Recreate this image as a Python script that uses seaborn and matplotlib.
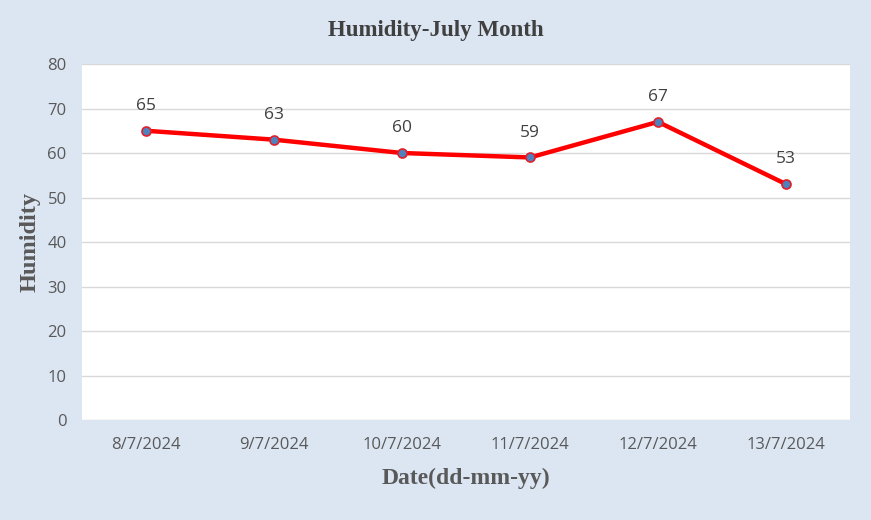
import matplotlib
matplotlib.use('Agg')
import matplotlib.pyplot as plt
import seaborn as sns
import pandas as pd

# data
dates = ['8/7/2024', '9/7/2024', '10/7/2024', '11/7/2024', '12/7/2024', '13/7/2024']
humidity = [65, 63, 60, 59, 67, 53]

df = pd.DataFrame({'Date': dates, 'Humidity': humidity})

sns.set_style('white')
plt.rcParams['font.family'] = ['Open Sans', 'DejaVu Sans']

bg = '#dce6f2'
fig = plt.figure(figsize=(8.71, 5.2), dpi=100, facecolor=bg)
ax = fig.add_axes([0.0941, 0.1923, 0.8818, 0.6846])
ax.set_facecolor('white')

sns.lineplot(data=df, x='Date', y='Humidity', ax=ax, color='#ff0000', linewidth=3.2,
             marker='o', markersize=6.5, markerfacecolor='#4f81bd',
             markeredgecolor='#e0202a', markeredgewidth=1.2, sort=False)

# data labels
for i, v in enumerate(humidity):
    ax.annotate(str(v), (i, v), xytext=(0, 12), textcoords='offset points',
                ha='center', va='bottom', fontsize=12.5, color='#404040')

ax.set_ylim(0, 80)
ax.set_yticks(range(0, 81, 10))
ax.set_xlim(-0.5, len(dates) - 0.5)
ax.yaxis.grid(True, color='#d9d9d9', linewidth=1)
ax.set_axisbelow(True)
for s in ax.spines.values():
    s.set_visible(False)
ax.tick_params(axis='both', length=0, labelsize=12, labelcolor='#595959')
ax.tick_params(axis='y', pad=11)
ax.tick_params(axis='x', pad=12)

serif = ['Liberation Serif', 'DejaVu Serif']
ax.set_xlabel('Date(dd-mm-yy)', family=serif, fontweight='bold', fontsize=17,
              color='#595959', labelpad=11)
ax.set_ylabel('Humidity', family=serif, fontweight='bold', fontsize=17.5,
              color='#595959', labelpad=5)
fig.text(0.5, 0.942, 'Humidity-July Month', ha='center', va='center', family=serif,
         fontweight='bold', fontsize=16.5, color='#404040')

plt.savefig('out.png', dpi=100, facecolor=bg)
plt.close(fig)
